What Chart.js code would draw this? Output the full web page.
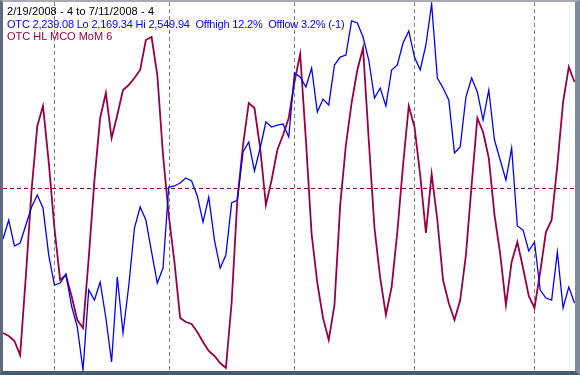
<!DOCTYPE html>
<html>
<head>
<meta charset="utf-8">
<script src="https://cdn.jsdelivr.net/npm/chart.js@4"></script>
<style>
  body { margin: 0; background: #fff; }
  #wrap { position: relative; width: 580px; height: 375px; overflow: hidden; }
  #myChart { position: absolute; left: 0; top: 0; }
  #frame {
    position: absolute; left: 0; top: 0; width: 580px; height: 375px; box-sizing: border-box;
    border-left: 3px solid #5c6c7e; border-top: 2px solid #a8acb2;
    border-right: 5px solid #7e8c9c; border-bottom: 4px solid #4a5a6c;
    pointer-events: none;
  }
  .txt { position: absolute; left: 7px; font: 11px "Liberation Sans", Arial, sans-serif; white-space: pre; line-height: 12px; }
</style>
</head>
<body>
<div id="wrap">
  <canvas id="myChart" width="580" height="375"></canvas>
  <div id="frame"></div>
  <div class="txt" style="top:5px;color:#000;letter-spacing:0.1px">2/19/2008 - 4 to 7/11/2008 - 4</div>
  <div class="txt" style="top:17.5px;color:#0000ff;letter-spacing:-0.19px">OTC 2,239.08 Lo 2,169.34 Hi 2,549.94  Offhigh 12.2%  Offlow 3.2% (-1)</div>
  <div class="txt" style="top:30px;color:#990044">OTC HL MCO MoM 6</div>
</div>
<script>
let tradeDays = [
  '2/19','2/20','2/21','2/22','2/25','2/26','2/27','2/28','2/29',
  '3/3','3/4','3/5','3/6','3/7','3/10','3/11','3/12','3/13','3/14','3/17','3/18','3/19','3/20','3/24','3/25','3/26','3/27','3/28','3/31',
  '4/1','4/2','4/3','4/4','4/7','4/8','4/9','4/10','4/11','4/14','4/15','4/16','4/17','4/18','4/21','4/22','4/23','4/24','4/25','4/28','4/29','4/30',
  '5/1','5/2','5/5','5/6','5/7','5/8','5/9','5/12','5/13','5/14','5/15','5/16','5/19','5/20','5/21','5/22','5/23','5/27','5/28','5/29','5/30',
  '6/2','6/3','6/4','6/5','6/6','6/9','6/10','6/11','6/12','6/13','6/16','6/17','6/18','6/19','6/20','6/23','6/24','6/25','6/26','6/27','6/30',
  '7/1','7/2','7/3','7/7','7/8','7/9','7/10','7/11'
];

// OTC (Nasdaq composite) close
let otcClose = [
  2305.6, 2325.3, 2298.3, 2301.4, 2320.1, 2338.8, 2351.3, 2337.8, 2288.9,
  2257.7, 2259.8, 2269.2, 2235.9, 2214.0, 2169.34, 2252.5, 2242.1, 2260.9, 2223.4, 2177.7,
  2266.0, 2207.8, 2256.7, 2317.0, 2338.8, 2325.3, 2292.0, 2259.8, 2275.4,
  2359.6, 2360.7, 2363.8, 2369.0, 2365.9, 2350.3, 2323.2, 2349.2, 2304.5, 2275.4, 2288.9,
  2343.0, 2346.1, 2396.0, 2406.4, 2376.3, 2400.2, 2427.2, 2422.0, 2424.1, 2425.1, 2411.6,
  2478.2, 2474.0, 2463.6, 2483.4, 2437.6, 2451.1, 2444.9, 2486.5, 2494.8, 2496.9,
  2532.3, 2530.2, 2515.6, 2491.7, 2452.2, 2462.6, 2443.9, 2481.3, 2486.5, 2509.4, 2521.9,
  2494.8, 2481.3, 2507.3, 2549.94, 2473.0, 2462.6, 2450.1, 2395.0, 2401.2, 2453.2,
  2473.0, 2458.4, 2429.3, 2460.5, 2408.5, 2387.7, 2366.9, 2400.2, 2319.1, 2314.9, 2293.1,
  2302.4, 2252.5, 2244.2, 2242.1, 2292.0, 2233.8, 2255.6, 2239.08
];

// HL MCO momentum (6)
let mcoMom = [
  -72.5, -74, -76.5, -83.5, -44, -1, 31, 41, 13,
  -20, -46, -43.5, -54, -66, -70, -35, 4, 35, 47.5, 25,
  36.5, 49, 51.5, 55, 59, 74, 75.5, 56.5, 16.5,
  -13.5, -37, -65, -67, -68, -72, -77, -81.5, -84, -87.5, -90,
  -57.5, -6, 21.5, 42.5, 40, 20, -8.5, 4, 19, 26.5, 35,
  53, 67, 24, -23, -47.5, -65, -76, -58.5, -8.5, 21.5,
  42.5, 59, 70, 24, -20, -45, -63.5, -49.5, -22, 11.5, 41,
  30.5, 6.5, -22.5, 7, -16, -46, -57.5, -66, -56, -33.5,
  1.5, 35, 28, 15, -13.5, -33, -58.5, -37, -27, -40, -54,
  -60, -42, -22, -16, 11.5, 43, 60.5, 53
];

let otcLo = 2169.34;
let otcHi = 2549.94;

// month lines + zero line, drawn behind the data
let guides = {
  id: 'guides',
  beforeDatasetsDraw(chart) {
    let ctx = chart.ctx;
    let area = chart.chartArea;
    let x = chart.scales.x;
    ctx.save();
    ctx.lineWidth = 1;
    ctx.setLineDash([4, 3]);
    ctx.strokeStyle = '#808080';
    tradeDays.forEach((d, i) => {
      if (i > 0 && d.split('/')[0] !== tradeDays[i - 1].split('/')[0]) {
        let px = Math.round(x.getPixelForValue(i)) + 0.5;
        ctx.beginPath();
        ctx.moveTo(px, area.top - 2);
        ctx.lineTo(px, area.bottom + 2);
        ctx.stroke();
      }
    });
    let py = Math.round(chart.scales.yMom.getPixelForValue(0)) + 0.5;
    ctx.strokeStyle = '#990044';
    ctx.beginPath();
    ctx.moveTo(area.left, py);
    ctx.lineTo(area.right, py);
    ctx.stroke();
    ctx.restore();
  }
};

let ctx = document.getElementById('myChart').getContext('2d');
let chart = new Chart(ctx, {
  type: 'line',
  data: {
    labels: tradeDays,
    datasets: [{
      label: 'OTC',
      data: otcClose,
      yAxisID: 'yOtc',
      borderColor: '#0000ff',
      borderWidth: 1.3,
      pointRadius: 0,
      tension: 0,
      clip: 4
    }, {
      label: 'OTC HL MCO MoM 6',
      data: mcoMom,
      yAxisID: 'yMom',
      borderColor: '#990044',
      borderWidth: 1.8,
      pointRadius: 0,
      tension: 0,
      clip: 4
    }]
  },
  options: {
    responsive: false,
    animation: false,
    layout: { padding: { left: 3, right: 5.5, top: 4, bottom: 5 } },
    plugins: { legend: { display: false }, tooltip: { enabled: false } },
    scales: {
      x: { type: 'category', display: false, offset: false },
      yOtc: { display: false, min: otcLo, max: otcHi },
      yMom: { display: false, min: -91, max: 92 }
    }
  },
  plugins: [guides]
});
</script>
</body>
</html>
